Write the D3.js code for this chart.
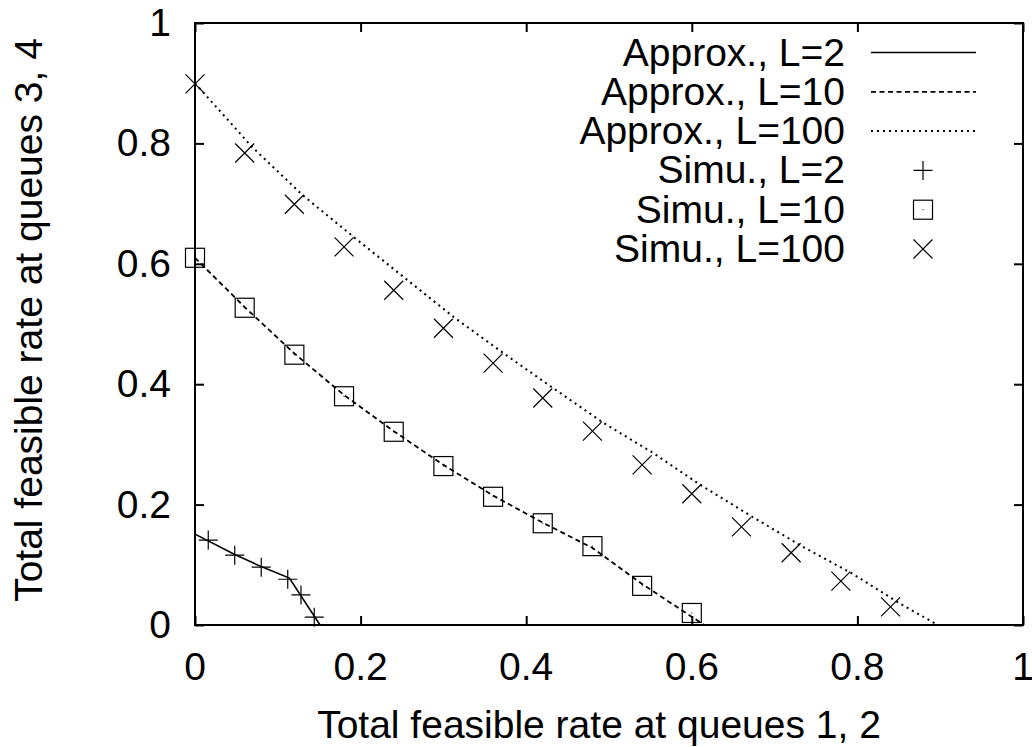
<!DOCTYPE html>
<html>
<head>
<meta charset="utf-8">
<script src="https://cdn.jsdelivr.net/npm/d3@7"></script>
<style>
  body { margin: 0; background: #fff; }
  svg text { font-family: "Liberation Sans", Arial, sans-serif; fill: #000; }
</style>
</head>
<body>
<div id="chart"></div>
<script>
// ticks
const xTicks = [0, 0.2, 0.4, 0.6, 0.8, 1];
const yTicks = [0, 0.2, 0.4, 0.6, 0.8, 1];

// approximation curves
const approxL2X = [0, 0.048, 0.08, 0.114, 0.151];
const approxL2Y = [0.151, 0.117, 0.097, 0.078, 0];

const approxL10X = [0, 0.06, 0.12, 0.18, 0.24, 0.30, 0.36, 0.42, 0.48, 0.54, 0.615];
const approxL10Y = [0.61, 0.528, 0.451, 0.382, 0.322, 0.266, 0.215, 0.170, 0.128, 0.068, 0];

const approxL100X = [0, 0.069, 0.13, 0.193, 0.312, 0.372, 0.432, 0.493, 0.553, 0.61, 0.674, 0.734, 0.793, 0.851, 0.897];
const approxL100Y = [0.9, 0.794, 0.714, 0.643, 0.512, 0.452, 0.394, 0.336, 0.286, 0.233, 0.179, 0.13, 0.086, 0.036, 0];

// simulation points
const simuL2X = [0.016, 0.048, 0.080, 0.112, 0.128, 0.144];
const simuL2Y = [0.141, 0.116, 0.096, 0.076, 0.050, 0.013];

const simuL10X = [0, 0.06, 0.12, 0.18, 0.24, 0.30, 0.36, 0.42, 0.48, 0.54, 0.60];
const simuL10Y = [0.610, 0.527, 0.449, 0.380, 0.321, 0.264, 0.213, 0.169, 0.131, 0.065, 0.020];

const simuL100X = [0, 0.06, 0.12, 0.18, 0.24, 0.30, 0.36, 0.42, 0.48, 0.54, 0.60, 0.66, 0.72, 0.78, 0.84];
const simuL100Y = [0.899, 0.784, 0.699, 0.628, 0.556, 0.493, 0.435, 0.377, 0.322, 0.266, 0.218, 0.163, 0.120, 0.073, 0.030];

const legendLabels = ["Approx., L=2", "Approx., L=10", "Approx., L=100", "Simu., L=2", "Simu., L=10", "Simu., L=100"];

const W = 1032, H = 747;
const margin = { top: 23, right: 9, bottom: 122, left: 195 };
const fontSize = 39;

const svg = d3.select("#chart").append("svg")
    .attr("width", W)
    .attr("height", H);

const x = d3.scaleLinear().domain([0, 1]).range([margin.left, W - margin.right]);
const y = d3.scaleLinear().domain([0, 1]).range([H - margin.bottom, margin.top]);

const zip = (xs, ys) => xs.map((v, i) => [v, ys[i]]);

// axes with inward ticks, mirrored on top/right
const tickLen = 9;
svg.append("g")
    .attr("transform", `translate(0,${y(0)})`)
    .call(d3.axisTop(x).tickValues(xTicks).tickSize(tickLen).tickFormat(""))
    .call(g => g.select(".domain").remove());
svg.append("g")
    .attr("transform", `translate(0,${y(1)})`)
    .call(d3.axisBottom(x).tickValues(xTicks).tickSize(tickLen).tickFormat(""))
    .call(g => g.select(".domain").remove());
svg.append("g")
    .attr("transform", `translate(${x(0)},0)`)
    .call(d3.axisRight(y).tickValues(yTicks).tickSize(tickLen).tickFormat(""))
    .call(g => g.select(".domain").remove());
svg.append("g")
    .attr("transform", `translate(${x(1)},0)`)
    .call(d3.axisLeft(y).tickValues(yTicks).tickSize(tickLen).tickFormat(""))
    .call(g => g.select(".domain").remove());
svg.selectAll(".tick line").attr("stroke", "#000").attr("stroke-width", 2);

// tick labels
svg.append("g").selectAll("text")
    .data(xTicks)
    .join("text")
    .attr("x", d => x(d))
    .attr("y", y(0) + 55)
    .attr("text-anchor", "middle")
    .attr("font-size", fontSize)
    .text(d => d3.format("~g")(d));

svg.append("g").selectAll("text")
    .data(yTicks)
    .join("text")
    .attr("x", x(0) - 24)
    .attr("y", d => y(d) + 13)
    .attr("text-anchor", "end")
    .attr("font-size", fontSize)
    .text(d => d3.format("~g")(d));

// border
svg.append("rect")
    .attr("x", x(0)).attr("y", y(1))
    .attr("width", x(1) - x(0)).attr("height", y(0) - y(1))
    .attr("fill", "none")
    .attr("stroke", "#000")
    .attr("stroke-width", 2);

// axis titles
svg.append("text")
    .attr("x", (x(0) + x(1)) / 2 - 10)
    .attr("y", 738)
    .attr("text-anchor", "middle")
    .attr("font-size", fontSize)
    .text("Total feasible rate at queues 1, 2");

svg.append("text")
    .attr("transform", `translate(42,${(y(0) + y(1)) / 2 - 4}) rotate(-90)`)
    .attr("text-anchor", "middle")
    .attr("font-size", fontSize)
    .text("Total feasible rate at queues 3, 4");

// lines
const line = d3.line().x(d => x(d[0])).y(d => y(d[1]));
const lineStyles = [
    { data: zip(approxL2X, approxL2Y), dash: null, w: 1.6 },
    { data: zip(approxL10X, approxL10Y), dash: "5,3.5", w: 1.8 },
    { data: zip(approxL100X, approxL100Y), dash: "2,4", w: 2 }
];
svg.append("g").selectAll("path")
    .data(lineStyles)
    .join("path")
    .attr("d", d => line(d.data))
    .attr("fill", "none")
    .attr("stroke", "#000")
    .attr("stroke-width", d => d.w)
    .attr("stroke-dasharray", d => d.dash);

// markers
const ms = 9.5;
function plus(g, cx, cy) {
    g.append("path")
        .attr("d", `M${cx - ms},${cy}H${cx + ms}M${cx},${cy - ms}V${cy + ms}`)
        .attr("stroke", "#000").attr("stroke-width", 1.2).attr("fill", "none");
}
function square(g, cx, cy) {
    g.append("rect")
        .attr("x", cx - ms).attr("y", cy - ms)
        .attr("width", 2 * ms).attr("height", 2 * ms)
        .attr("stroke", "#000").attr("stroke-width", 1.2).attr("fill", "none");
    g.append("rect")
        .attr("x", cx - 0.5).attr("y", cy - 0.5)
        .attr("width", 1).attr("height", 1)
        .attr("fill", "#000");
}
function cross(g, cx, cy) {
    g.append("path")
        .attr("d", `M${cx - ms},${cy - ms}L${cx + ms},${cy + ms}M${cx - ms},${cy + ms}L${cx + ms},${cy - ms}`)
        .attr("stroke", "#000").attr("stroke-width", 1.2).attr("fill", "none");
}

const markers = svg.append("g");
zip(simuL2X, simuL2Y).forEach(d => plus(markers, x(d[0]), y(d[1])));
zip(simuL10X, simuL10Y).forEach(d => square(markers, x(d[0]), y(d[1])));
zip(simuL100X, simuL100Y).forEach(d => cross(markers, x(d[0]), y(d[1])));

// legend
const legend = svg.append("g");
const legTextX = 845, legSampleX0 = 871, legSampleX1 = 976, legSymX = 923;
const legY0 = 52.5, legStep = 39.3;
legendLabels.forEach((lab, i) => {
    const ly = legY0 + i * legStep;
    legend.append("text")
        .attr("x", legTextX)
        .attr("y", ly + 13)
        .attr("text-anchor", "end")
        .attr("font-size", fontSize)
        .text(lab);
    if (i < 3) {
        legend.append("line")
            .attr("x1", legSampleX0).attr("x2", legSampleX1)
            .attr("y1", ly).attr("y2", ly)
            .attr("stroke", "#000")
            .attr("stroke-width", lineStyles[i].w)
            .attr("stroke-dasharray", lineStyles[i].dash);
    } else if (i === 3) {
        plus(legend, legSymX, ly);
    } else if (i === 4) {
        square(legend, legSymX, ly);
    } else {
        cross(legend, legSymX, ly);
    }
});
</script>
</body>
</html>
